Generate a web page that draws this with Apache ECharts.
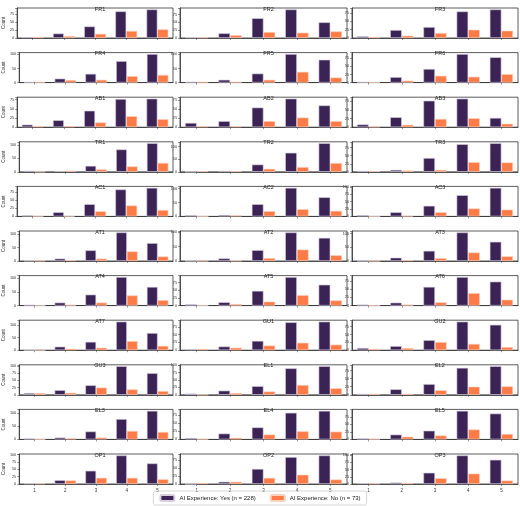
<!DOCTYPE html>
<html><head><meta charset="utf-8">
<script src="https://cdn.jsdelivr.net/npm/echarts@6/dist/echarts.min.js"></script>
<style>html,body{margin:0;padding:0;background:#fff}#c{width:520px;height:506px}</style>
</head><body><div id="c"></div>
<script>
const categories = ['1','2','3','4','5'];
const titles = ['FR1','FR2','FR3','FR4','FR5','FR6','AB1','AB2','AB3','TR1','TR2','TR3','AC1','AC2','AC3',
  'AT1','AT2','AT3','AT4','AT5','AT6','AT7','GU1','GU2','GU3','EL1','EL2','EL3','EL4','EL5','OP1','OP2','OP3'];
const yesCounts = [
 [3,14,36,83,89],[2,15,63,91,50],[5,24,33,80,86],
 [2,14,31,76,101],[3,10,32,101,81],[2,17,42,88,78],
 [7,19,45,77,78],[12,17,55,80,61],[8,29,77,83,27],
 [4,3,22,83,106],[0,4,29,76,114],[3,6,43,86,89],
 [3,13,38,84,89],[4,5,44,103,69],[4,14,36,72,97],
 [1,9,40,107,67],[0,9,38,100,81],[0,12,37,104,70],
 [3,11,40,104,68],[4,11,48,93,68],[3,9,57,87,73],
 [0,14,33,113,68],[3,12,30,90,92],[7,13,32,91,81],
 [6,16,33,99,75],[4,14,29,89,96],[3,17,33,83,88],
 [3,7,30,77,108],[4,18,37,82,88],[3,16,29,95,86],
 [2,13,45,97,70],[0,7,47,84,89],[3,5,39,99,84]
];
const noCounts = [
 [3,6,13,22,27],[2,9,19,17,21],[3,7,15,25,22],
 [2,9,10,23,27],[3,3,10,38,18],[1,6,21,18,26],
 [3,3,13,30,22],[3,3,17,27,17],[2,7,24,26,10],
 [0,4,9,20,33],[2,2,12,19,35],[2,4,6,30,29],
 [1,1,16,34,20],[0,4,19,26,20],[0,2,14,27,23],
 [1,3,9,36,17],[0,1,10,40,20],[0,3,10,31,17],
 [0,3,11,37,20],[1,5,13,34,17],[0,3,10,38,18],
 [0,6,10,36,17],[4,8,15,24,18],[4,7,26,20,10],
 [6,7,25,19,13],[0,6,11,33,22],[3,3,14,25,26],
 [0,4,7,32,28],[1,5,15,25,24],[1,9,13,33,18],
 [2,12,21,21,16],[3,7,19,29,14],[2,3,20,36,12]
];
const legendNames = ['AI Experience: Yes (n = 228)','AI Experience: No (n = 73)'];

const colLeft=[17,180,352], colWidth=[156,167,166];
const grids=[],xAxes=[],yAxes=[],series=[],tls=[];
titles.forEach((t,i)=>{
  const r=Math.floor(i/3), c=i%3, top=8+r*44.6;
  const last = r===10;
  grids.push({left:colLeft[c],top:top,width:colWidth[c],height:30});
  xAxes.push({type:'category',gridIndex:i,data:categories,
    axisLine:{lineStyle:{color:'#333',width:0.8}},axisTick:{show:true,alignWithLabel:true,length:2,lineStyle:{color:'#333',width:0.5}},
    axisLabel:{show:last,fontSize:4.5,color:'#333',margin:4}});
  const m=Math.max(...yesCounts[i],...noCounts[i]);
  yAxes.push({type:'value',gridIndex:i,min:0,max:m*1.05,interval:m>=100?50:25,
    name:c===0?'Count':'',nameLocation:'middle',nameGap:10,nameTextStyle:{fontSize:4.5,color:'#333'},
    axisLine:{show:true,lineStyle:{color:'#333',width:0.8}},axisTick:{show:true,length:2,lineStyle:{width:0.5}},
    axisLabel:{fontSize:3.8,color:'#333',margin:3,showMaxLabel:true,formatter:v=>(v%25===0?v:'')},
    splitLine:{show:false}});
  tls.push({text:t,left:colLeft[c]+colWidth[c]/2,top:top-7,textAlign:'center',textStyle:{fontSize:5.5,fontWeight:'normal',color:'#222'}});
  series.push({name:legendNames[0],type:'bar',xAxisIndex:i,yAxisIndex:i,data:yesCounts[i],barGap:'0%',barCategoryGap:'30%',
    itemStyle:{color:'#3b2455',borderColor:'#d7cfe0',borderWidth:0.6},silent:true});
  series.push({name:legendNames[1],type:'bar',xAxisIndex:i,yAxisIndex:i,data:noCounts[i],barGap:'0%',barCategoryGap:'30%',
    itemStyle:{color:'#fd7b47',borderColor:'#fdd2c0',borderWidth:0.6},silent:true});
});
// axis frame (top/right spines)
const chart=echarts.init(document.getElementById('c'),null,{renderer:'canvas'});
chart.setOption({
  animation:false,
  title:tls,
  grid:grids.map(g=>Object.assign({show:true,borderColor:'#333',borderWidth:0.8,backgroundColor:'transparent'},g)),
  xAxis:xAxes,yAxis:yAxes,series:series,
  legend:{data:legendNames,bottom:1,left:'center',itemWidth:14,itemHeight:6,itemGap:14,
    textStyle:{fontSize:6,color:'#222'},borderColor:'#ccc',borderWidth:0.8,padding:[3,6],borderRadius:2}
});
</script></body></html>
